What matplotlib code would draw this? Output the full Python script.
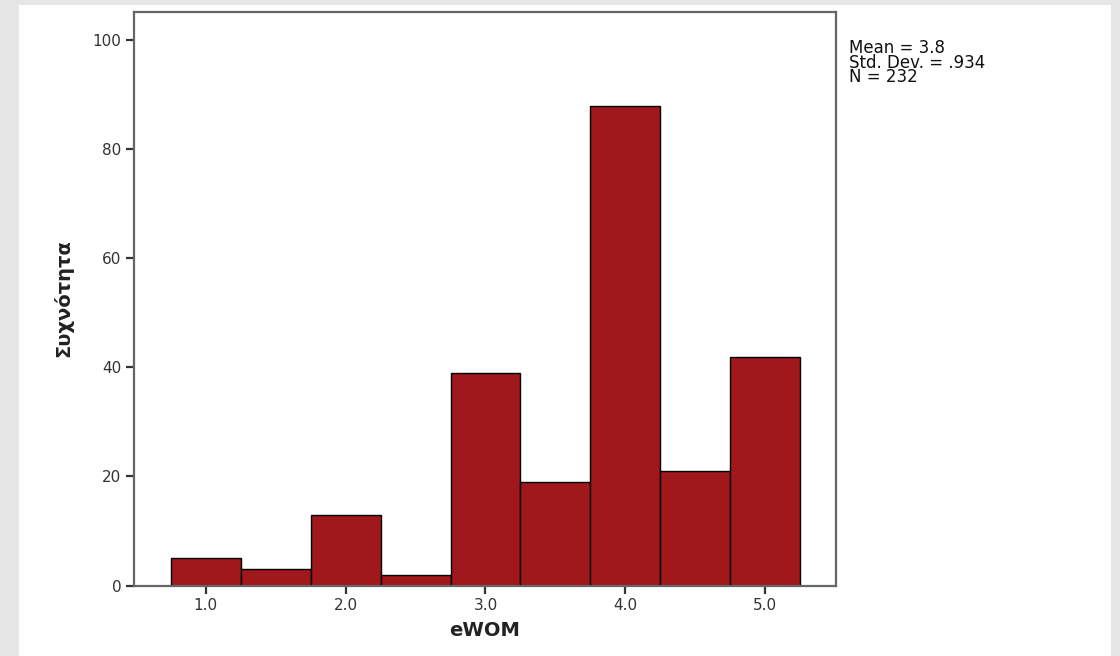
import matplotlib
matplotlib.use("Agg")
import matplotlib.pyplot as plt
from matplotlib.patches import Rectangle

# Histogram data (eWOM, bins of width 0.5 centred on 1.0 ... 5.0)
bin_centers = [1.0, 1.5, 2.0, 2.5, 3.0, 3.5, 4.0, 4.5, 5.0]
counts = [5, 3, 13, 2, 39, 19, 88, 21, 42]
bin_width = 0.5
x_ticks = [1.0, 2.0, 3.0, 4.0, 5.0]
y_ticks = [0, 20, 40, 60, 80, 100]
stats_lines = ["Mean = 3.8", "Std. Dev. = .934", "N = 232"]

fig = plt.figure(figsize=(11.2, 6.56), dpi=100)
fig.patch.set_facecolor("#e6e6e6")
# white panel inside the grey frame
fig.patches.append(Rectangle((19 / 1120, 0), (1111 - 19) / 1120, 1 - 5 / 656,
                             transform=fig.transFigure, facecolor="white",
                             edgecolor="none", zorder=-10))

ax = fig.add_axes([134 / 1120, 1 - 585.5 / 656, (836 - 134) / 1120, (585.5 - 11.5) / 656])
ax.bar(bin_centers, counts, width=bin_width, color="#a0171c",
       edgecolor="black", linewidth=1.0, zorder=2)

ax.set_xlim(0.486, 5.507)
ax.set_ylim(0, 105.3)
ax.set_xticks(x_ticks)
ax.set_xticklabels([f"{t:.1f}" for t in x_ticks])
ax.set_yticks(y_ticks)

for spine in ax.spines.values():
    spine.set_color("#666666")
    spine.set_linewidth(1.6)

ax.tick_params(axis="both", direction="out", length=6, width=1.6,
               color="#333333", labelcolor="#333333", labelsize=11, pad=3)

ax.set_xlabel("eWOM", fontsize=14, fontweight="bold", color="#222222", labelpad=6)
ax.set_ylabel("Συχνότητα", fontsize=14, fontweight="bold", color="#222222", labelpad=14)

fig.text(849 / 1120, 1 - 39 / 656, "\n".join(stats_lines), fontsize=12,
         va="top", ha="left", color="#111111", linespacing=0.75)

fig.savefig("out.png", dpi=100, facecolor=fig.get_facecolor())
